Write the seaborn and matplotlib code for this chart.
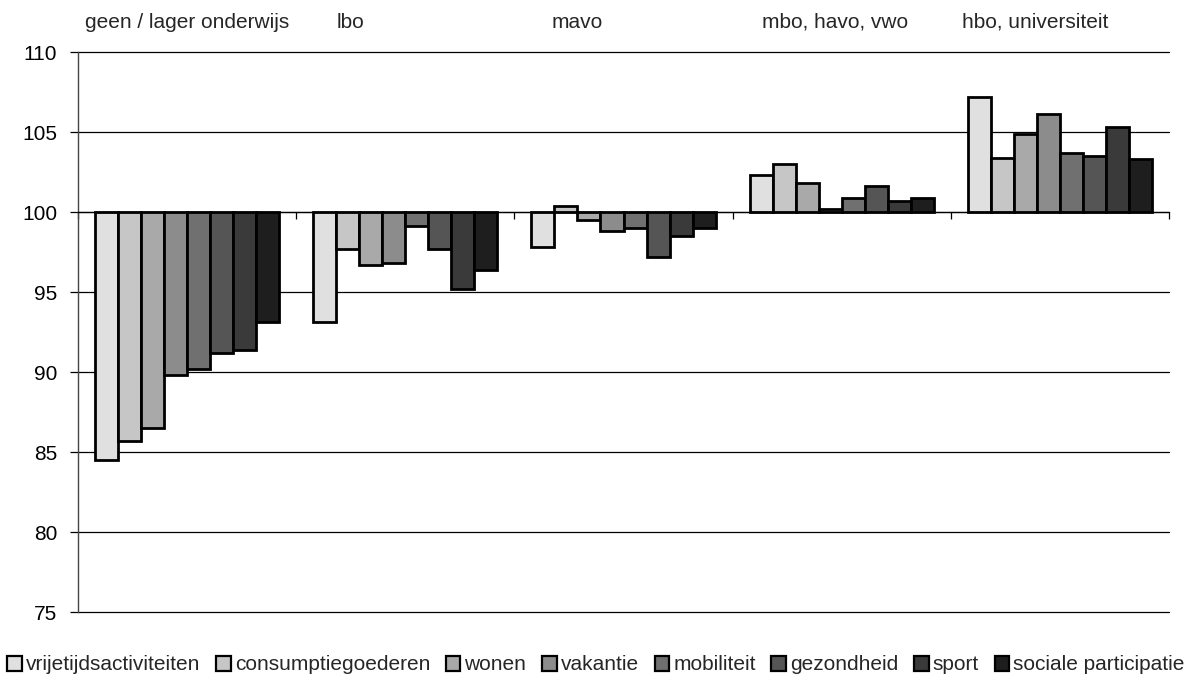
import numpy as np
import pandas as pd
import matplotlib
matplotlib.use("Agg")
import matplotlib.pyplot as plt
import matplotlib.transforms as mtransforms
from matplotlib.patches import Patch
import seaborn as sns

# ---- data ----
groups = ["geen / lager onderwijs", "lbo", "mavo", "mbo, havo, vwo", "hbo, universiteit"]
categories = ["vrijetijdsactiviteiten", "consumptiegoederen", "wonen", "vakantie",
              "mobiliteit", "gezondheid", "sport", "sociale participatie"]
vals_geen = [84.5, 85.7, 86.5, 89.8, 90.2, 91.2, 91.4, 93.1]
vals_lbo = [93.1, 97.7, 96.7, 96.8, 99.1, 97.7, 95.2, 96.4]
vals_mavo = [97.8, 100.4, 99.5, 98.8, 99.0, 97.2, 98.5, 99.0]
vals_mbo = [102.3, 103.0, 101.8, 100.2, 100.9, 101.6, 100.7, 100.9]
vals_hbo = [107.2, 103.4, 104.9, 106.1, 103.7, 103.5, 105.3, 103.3]
yticks = [75, 80, 85, 90, 95, 100, 105, 110]

# ---- styling / layout ----
colors = ["#E0E0E0", "#C6C6C6", "#A9A9A9", "#8C8C8C", "#707070", "#555555", "#3A3A3A", "#1E1E1E"]
label_x = [0.0, 0.747, 1.787, 2.969, 3.886]
baseline = 100
fs = 15

rows = []
for g, vals in zip(groups, [vals_geen, vals_lbo, vals_mavo, vals_mbo, vals_hbo]):
    for c, v in zip(categories, vals):
        rows.append({"groep": g, "categorie": c, "waarde": v, "afwijking": v - baseline})
df = pd.DataFrame(rows)

sns.set_style("white")
plt.rcParams["font.family"] = ["Liberation Sans", "DejaVu Sans"]
plt.rcParams["font.size"] = fs

fig = plt.figure(figsize=(11.92, 6.82), dpi=100)
ax = fig.add_axes([78 / 1192, 70 / 682, (1169 - 78) / 1192, 560 / 682])

sns.barplot(data=df, x="groep", y="afwijking", hue="categorie", order=groups,
            hue_order=categories, palette=colors, bottom=baseline, width=0.845,
            edgecolor="black", linewidth=2.0, errorbar=None, ax=ax, saturation=1,
            legend=False)

ax.set_ylim(75, 110)
ax.set_xlim(-0.5, len(groups) - 0.5)
ax.set_yticks(yticks)
ax.set_yticklabels([str(t) for t in yticks], fontsize=fs, color="black")
ax.set_xticks(np.arange(len(groups) + 1) - 0.5)
ax.set_xticklabels([])
ax.set_xlabel("")
ax.set_ylabel("")
ax.grid(axis="y", color="black", linewidth=0.9)
ax.set_axisbelow(True)
for gl in ax.get_ygridlines():
    gl.set_clip_on(False)

for s in ["top", "right"]:
    ax.spines[s].set_visible(False)
ax.spines["bottom"].set_position(("data", baseline))
ax.spines["bottom"].set_color("black")
ax.spines["bottom"].set_linewidth(0.9)
ax.spines["left"].set_color("#444444")
ax.spines["left"].set_linewidth(1.0)
ax.tick_params(axis="y", left=True, direction="out", length=6, width=0.9, color="black", pad=9)
ax.tick_params(axis="x", bottom=True, direction="out", length=5, width=0.9, color="black")

trans = mtransforms.blended_transform_factory(ax.transData, fig.transFigure)
for g, xp in zip(groups, label_x):
    ax.text(xp, 1 - 22 / 682, g, transform=trans, ha="center", va="center", fontsize=fs)

handles = [Patch(facecolor=c, edgecolor="black", linewidth=1.6) for c in colors]
fig.legend(handles, categories, loc="center", bbox_to_anchor=(0.5, 17 / 682), ncol=8,
           frameon=False, fontsize=fs, handlelength=0.7, handleheight=0.7,
           handletextpad=0.2, columnspacing=0.75, borderaxespad=0)

fig.savefig("out.png", dpi=100)
